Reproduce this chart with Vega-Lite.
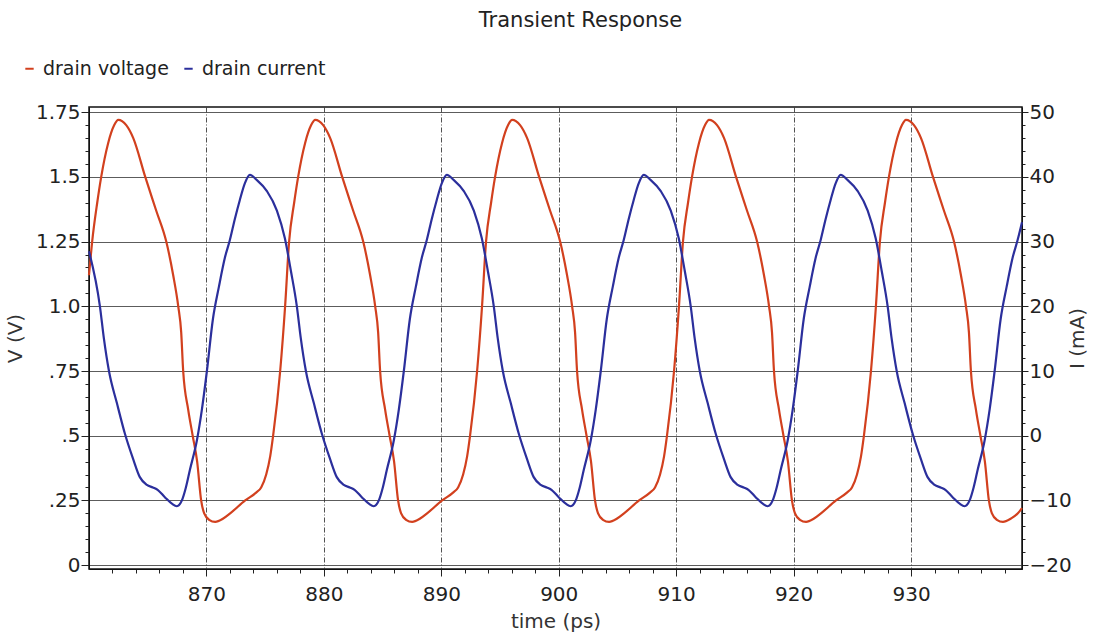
{
  "$schema": "https://vega.github.io/schema/vega-lite/v6.json",
  "width": 933,
  "height": 462,
  "autosize": "none",
  "padding": {"left": 89, "top": 107, "right": 72, "bottom": 66},
  "background": "white",
  "title": {"text": "Transient Response", "font": "DejaVu Sans", "fontSize": 21, "fontWeight": "normal", "color": "#222", "dx": 25, "offset": 28, "frame": "group"},
  "config": {
    "view": {"stroke": "#111", "strokeWidth": 1.5},
    "axis": {"labelFont": "DejaVu Sans", "titleFont": "DejaVu Sans", "labelFontSize": 20, "titleFontSize": 20, "titleFontWeight": "normal", "labelColor": "#222", "titleColor": "#333", "tickColor": "#222", "domainColor": "#111"}
  },
  "datasets": {
    "voltage": [
      {"t":860.0,"v":1.12},{"t":860.27,"v":1.25},{"t":860.7,"v":1.4},{"t":861.04,"v":1.5},{"t":861.63,"v":1.63},{"t":862.15,"v":1.7},
      {"t":862.49,"v":1.72},{"t":863.17,"v":1.7},{"t":863.77,"v":1.65},{"t":864.79,"v":1.5},{"t":865.72,"v":1.37},{"t":866.58,"v":1.25},{"t":867.17,"v":1.12},{"t":867.6,"v":1.0},{"t":867.85,"v":0.9},{"t":868.02,"v":0.75},{"t":868.45,"v":0.6},{"t":868.83,"v":0.5},{"t":869.21,"v":0.4},{"t":869.55,"v":0.25},{"t":869.81,"v":0.2},{"t":870.23,"v":0.175},{"t":870.75,"v":0.167},{"t":871.43,"v":0.18},{"t":872.02,"v":0.2},{"t":873.3,"v":0.25},{"t":874.23,"v":0.28},{"t":874.66,"v":0.3},{"t":875.09,"v":0.35},{"t":875.43,"v":0.42},{"t":875.68,"v":0.5},{"t":876.28,"v":0.75},{"t":876.7,"v":1.0},{"t":877.04,"v":1.25},{"t":877.47,"v":1.4},{"t":877.81,"v":1.5},{"t":878.4,"v":1.63},{"t":878.92,"v":1.7},
      {"t":879.26,"v":1.72},{"t":879.94,"v":1.7},{"t":880.54,"v":1.65},{"t":881.56,"v":1.5},{"t":882.49,"v":1.37},{"t":883.35,"v":1.25},{"t":883.94,"v":1.12},{"t":884.37,"v":1.0},{"t":884.62,"v":0.9},{"t":884.79,"v":0.75},{"t":885.22,"v":0.6},{"t":885.6,"v":0.5},{"t":885.98,"v":0.4},{"t":886.32,"v":0.25},{"t":886.58,"v":0.2},{"t":887.0,"v":0.175},{"t":887.52,"v":0.167},{"t":888.2,"v":0.18},{"t":888.79,"v":0.2},{"t":890.07,"v":0.25},{"t":891.0,"v":0.28},{"t":891.43,"v":0.3},{"t":891.86,"v":0.35},{"t":892.2,"v":0.42},{"t":892.45,"v":0.5},{"t":893.05,"v":0.75},{"t":893.47,"v":1.0},{"t":893.81,"v":1.25},{"t":894.24,"v":1.4},{"t":894.58,"v":1.5},{"t":895.17,"v":1.63},{"t":895.69,"v":1.7},
      {"t":896.03,"v":1.72},{"t":896.71,"v":1.7},{"t":897.31,"v":1.65},{"t":898.33,"v":1.5},{"t":899.26,"v":1.37},{"t":900.12,"v":1.25},{"t":900.71,"v":1.12},{"t":901.14,"v":1.0},{"t":901.39,"v":0.9},{"t":901.56,"v":0.75},{"t":901.99,"v":0.6},{"t":902.37,"v":0.5},{"t":902.75,"v":0.4},{"t":903.09,"v":0.25},{"t":903.35,"v":0.2},{"t":903.77,"v":0.175},{"t":904.29,"v":0.167},{"t":904.97,"v":0.18},{"t":905.56,"v":0.2},{"t":906.84,"v":0.25},{"t":907.77,"v":0.28},{"t":908.2,"v":0.3},{"t":908.63,"v":0.35},{"t":908.97,"v":0.42},{"t":909.22,"v":0.5},{"t":909.82,"v":0.75},{"t":910.24,"v":1.0},{"t":910.58,"v":1.25},{"t":911.01,"v":1.4},{"t":911.35,"v":1.5},{"t":911.94,"v":1.63},{"t":912.46,"v":1.7},
      {"t":912.8,"v":1.72},{"t":913.48,"v":1.7},{"t":914.08,"v":1.65},{"t":915.1,"v":1.5},{"t":916.03,"v":1.37},{"t":916.89,"v":1.25},{"t":917.48,"v":1.12},{"t":917.91,"v":1.0},{"t":918.16,"v":0.9},{"t":918.33,"v":0.75},{"t":918.76,"v":0.6},{"t":919.14,"v":0.5},{"t":919.52,"v":0.4},{"t":919.86,"v":0.25},{"t":920.12,"v":0.2},{"t":920.54,"v":0.175},{"t":921.06,"v":0.167},{"t":921.74,"v":0.18},{"t":922.33,"v":0.2},{"t":923.61,"v":0.25},{"t":924.54,"v":0.28},{"t":924.97,"v":0.3},{"t":925.4,"v":0.35},{"t":925.74,"v":0.42},{"t":925.99,"v":0.5},{"t":926.59,"v":0.75},{"t":927.01,"v":1.0},{"t":927.35,"v":1.25},{"t":927.78,"v":1.4},{"t":928.12,"v":1.5},{"t":928.71,"v":1.63},{"t":929.23,"v":1.7},
      {"t":929.57,"v":1.72},{"t":930.25,"v":1.7},{"t":930.85,"v":1.65},{"t":931.87,"v":1.5},{"t":932.8,"v":1.37},{"t":933.66,"v":1.25},{"t":934.25,"v":1.12},{"t":934.68,"v":1.0},{"t":934.93,"v":0.9},{"t":935.1,"v":0.75},{"t":935.53,"v":0.6},{"t":935.91,"v":0.5},{"t":936.29,"v":0.4},{"t":936.63,"v":0.25},{"t":936.89,"v":0.2},{"t":937.31,"v":0.175},{"t":937.83,"v":0.167},{"t":938.51,"v":0.18},{"t":939.1,"v":0.2},{"t":939.45,"v":0.22}
    ],
    "current": [
      {"t":860.0,"i":28.5},{"t":860.93,"i":20},{"t":861.27,"i":15},{"t":861.7,"i":10},{"t":862.38,"i":5},{"t":863.06,"i":0.3},{"t":863.74,"i":-3.5},{"t":864.33,"i":-6.4},{"t":864.93,"i":-7.6},{"t":865.44,"i":-8.0},{"t":865.87,"i":-8.4},{"t":866.46,"i":-9.5},{"t":867.06,"i":-10.5},{"t":867.48,"i":-10.9},{"t":867.91,"i":-10},{"t":868.25,"i":-8},{"t":868.59,"i":-5.3},{"t":869.19,"i":-0.7},{"t":869.61,"i":4},{"t":870.04,"i":10},{"t":870.55,"i":18},{"t":871.06,"i":23},{"t":871.57,"i":27.5},{"t":871.99,"i":30.2},{"t":872.42,"i":33.5},{"t":872.84,"i":36.4},{"t":873.27,"i":39},
      {"t":873.7,"i":40.3},{"t":874.3,"i":39.5},{"t":875.15,"i":37.8},{"t":876.0,"i":34.8},{"t":876.68,"i":30.5},{"t":877.19,"i":25.5},{"t":877.7,"i":20},{"t":878.04,"i":15},{"t":878.47,"i":10},{"t":879.15,"i":5},{"t":879.83,"i":0.3},{"t":880.51,"i":-3.5},{"t":881.1,"i":-6.4},{"t":881.7,"i":-7.6},{"t":882.21,"i":-8.0},{"t":882.64,"i":-8.4},{"t":883.23,"i":-9.5},{"t":883.83,"i":-10.5},{"t":884.25,"i":-10.9},{"t":884.68,"i":-10},{"t":885.02,"i":-8},{"t":885.36,"i":-5.3},{"t":885.96,"i":-0.7},{"t":886.38,"i":4},{"t":886.81,"i":10},{"t":887.32,"i":18},{"t":887.83,"i":23},{"t":888.34,"i":27.5},{"t":888.76,"i":30.2},{"t":889.19,"i":33.5},{"t":889.61,"i":36.4},{"t":890.04,"i":39},
      {"t":890.47,"i":40.3},{"t":891.07,"i":39.5},{"t":891.92,"i":37.8},{"t":892.77,"i":34.8},{"t":893.45,"i":30.5},{"t":893.96,"i":25.5},{"t":894.47,"i":20},{"t":894.81,"i":15},{"t":895.24,"i":10},{"t":895.92,"i":5},{"t":896.6,"i":0.3},{"t":897.28,"i":-3.5},{"t":897.87,"i":-6.4},{"t":898.47,"i":-7.6},{"t":898.98,"i":-8.0},{"t":899.41,"i":-8.4},{"t":900.0,"i":-9.5},{"t":900.6,"i":-10.5},{"t":901.02,"i":-10.9},{"t":901.45,"i":-10},{"t":901.79,"i":-8},{"t":902.13,"i":-5.3},{"t":902.73,"i":-0.7},{"t":903.15,"i":4},{"t":903.58,"i":10},{"t":904.09,"i":18},{"t":904.6,"i":23},{"t":905.11,"i":27.5},{"t":905.53,"i":30.2},{"t":905.96,"i":33.5},{"t":906.38,"i":36.4},{"t":906.81,"i":39},
      {"t":907.24,"i":40.3},{"t":907.84,"i":39.5},{"t":908.69,"i":37.8},{"t":909.54,"i":34.8},{"t":910.22,"i":30.5},{"t":910.73,"i":25.5},{"t":911.24,"i":20},{"t":911.58,"i":15},{"t":912.01,"i":10},{"t":912.69,"i":5},{"t":913.37,"i":0.3},{"t":914.05,"i":-3.5},{"t":914.64,"i":-6.4},{"t":915.24,"i":-7.6},{"t":915.75,"i":-8.0},{"t":916.18,"i":-8.4},{"t":916.77,"i":-9.5},{"t":917.37,"i":-10.5},{"t":917.79,"i":-10.9},{"t":918.22,"i":-10},{"t":918.56,"i":-8},{"t":918.9,"i":-5.3},{"t":919.5,"i":-0.7},{"t":919.92,"i":4},{"t":920.35,"i":10},{"t":920.86,"i":18},{"t":921.37,"i":23},{"t":921.88,"i":27.5},{"t":922.3,"i":30.2},{"t":922.73,"i":33.5},{"t":923.15,"i":36.4},{"t":923.58,"i":39},
      {"t":924.01,"i":40.3},{"t":924.61,"i":39.5},{"t":925.46,"i":37.8},{"t":926.31,"i":34.8},{"t":926.99,"i":30.5},{"t":927.5,"i":25.5},{"t":928.01,"i":20},{"t":928.35,"i":15},{"t":928.78,"i":10},{"t":929.46,"i":5},{"t":930.14,"i":0.3},{"t":930.82,"i":-3.5},{"t":931.41,"i":-6.4},{"t":932.01,"i":-7.6},{"t":932.52,"i":-8.0},{"t":932.95,"i":-8.4},{"t":933.54,"i":-9.5},{"t":934.14,"i":-10.5},{"t":934.56,"i":-10.9},{"t":934.99,"i":-10},{"t":935.33,"i":-8},{"t":935.67,"i":-5.3},{"t":936.27,"i":-0.7},{"t":936.69,"i":4},{"t":937.12,"i":10},{"t":937.63,"i":18},{"t":938.14,"i":23},{"t":938.65,"i":27.5},{"t":939.07,"i":30.2},{"t":939.45,"i":33}
    ]
  },
  "encoding": {
    "x": {
      "field": "t", "type": "quantitative",
      "scale": {"domain": [860, 939.45], "nice": false, "zero": false},
      "axis": {
        "title": "time (ps)",
        "values": [862,864,866,868,870,872,874,876,878,880,882,884,886,888,890,892,894,896,898,900,902,904,906,908,910,912,914,916,918,920,922,924,926,928,930,932,934,936,938],
        "labelExpr": "datum.value % 10 === 0 ? datum.label : ''",
        "tickSize": {"condition": {"test": "datum.value % 10 === 0", "value": 7}, "value": 4},
        "gridOpacity": {"condition": {"test": "datum.value % 10 === 0", "value": 0.85}, "value": 0},
        "gridColor": "#333",
        "gridDash": [5, 2, 1, 2],
        "labelPadding": 8,
        "titlePadding": 7,
        "labelFlush": false
      }
    }
  },
  "layer": [
    {
      "data": {"name": "voltage"},
      "mark": {"type": "line", "color": "#d2401e", "strokeWidth": 2.2, "interpolate": "monotone"},
      "encoding": {
        "y": {
          "field": "v", "type": "quantitative",
          "scale": {"domain": [-0.015, 1.77], "nice": false, "zero": false},
          "axis": {
            "orient": "left",
            "title": "V (V)",
            "values": [0,0.05,0.1,0.15,0.2,0.25,0.3,0.35,0.4,0.45,0.5,0.55,0.6,0.65,0.7,0.75,0.8,0.85,0.9,0.95,1,1.05,1.1,1.15,1.2,1.25,1.3,1.35,1.4,1.45,1.5,1.55,1.6,1.65,1.7,1.75],
            "labelExpr": "abs(datum.value*4-round(datum.value*4))<0.001 ? ['0','.25','.5','.75','1.0','1.25','1.5','1.75'][round(datum.value*4)] : ''",
            "tickSize": {"condition": {"test": "abs(datum.value*4-round(datum.value*4))<0.001", "value": 8}, "value": 4},
            "gridOpacity": {"condition": {"test": "abs(datum.value*4-round(datum.value*4))<0.001", "value": 0.8}, "value": 0},
            "gridColor": "#333",
            "labelPadding": 1,
            "titlePadding": 10
          }
        },
        "color": {
          "datum": "drain voltage",
          "scale": {"domain": ["drain voltage", "drain current"], "range": ["#d2401e", "#2b2f9c"]},
          "legend": {
            "title": null, "orient": "none", "legendX": -69, "legendY": -48, "direction": "horizontal",
            "symbolType": "stroke", "symbolSize": 70, "symbolStrokeWidth": 2,
            "labelFont": "DejaVu Sans", "labelFontSize": 19, "labelColor": "#222",
            "labelOffset": 4, "columnPadding": 10, "padding": 0
          }
        }
      }
    },
    {
      "data": {"name": "current"},
      "mark": {"type": "line", "color": "#2b2f9c", "strokeWidth": 2.2, "interpolate": "monotone"},
      "encoding": {
        "y": {
          "field": "i", "type": "quantitative",
          "scale": {"domain": [-20.6, 50.8], "nice": false, "zero": false},
          "axis": {
            "orient": "right",
            "title": "I (mA)",
            "titleAngle": 270,
            "values": [-20,-18,-16,-14,-12,-10,-8,-6,-4,-2,0,2,4,6,8,10,12,14,16,18,20,22,24,26,28,30,32,34,36,38,40,42,44,46,48,50],
            "labelExpr": "datum.value % 10 === 0 ? datum.label : ''",
            "tickSize": {"condition": {"test": "datum.value % 10 === 0", "value": 6}, "value": 3},
            "grid": false,
            "labelPadding": 1,
            "titlePadding": 16
          }
        },
        "color": {"datum": "drain current"}
      }
    }
  ],
  "resolve": {"scale": {"y": "independent"}}
}
